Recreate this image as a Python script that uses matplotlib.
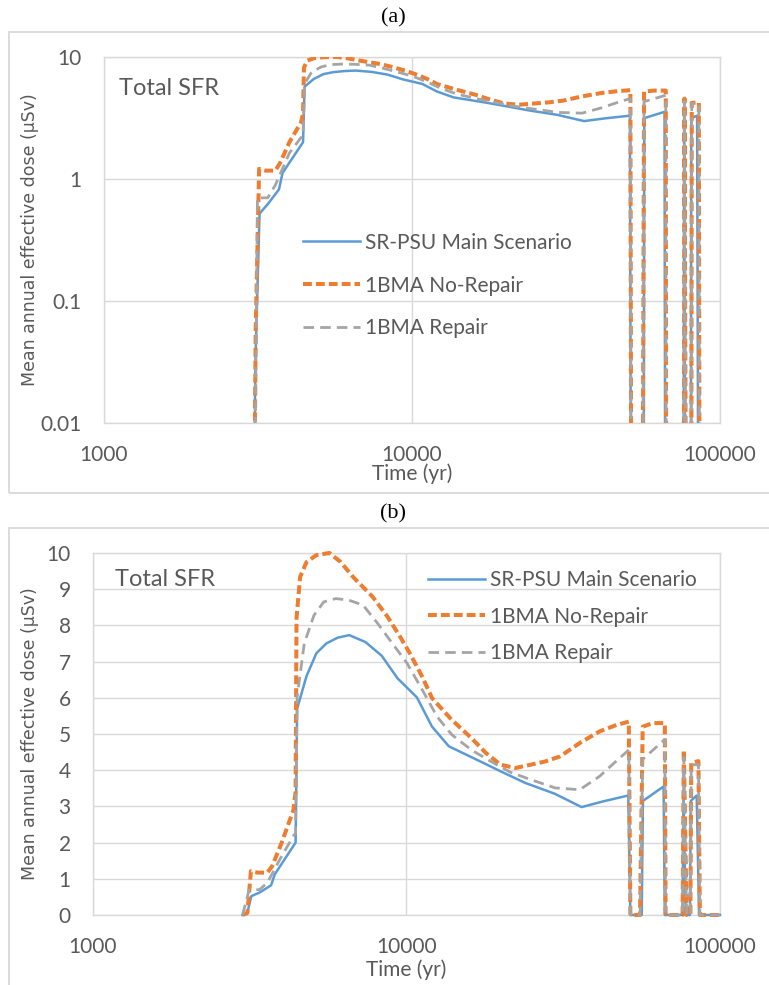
import numpy as np
import matplotlib
matplotlib.use("Agg")
import matplotlib.pyplot as plt
from matplotlib.patches import Rectangle

# Mean annual effective dose, total SFR, three cases
t_main = [3000, 3100, 3200, 3400, 3700, 3800, 4430, 4480, 4800, 5160, 5550,
          6030, 6570, 7400, 8340, 9360, 10800, 12050, 13650, 17600, 19950,
          23900, 29700, 36200, 42500, 51000, 51800, 56300, 56800, 66100, 66700,
          76000, 76500, 77800, 80200, 80700, 84300, 85800, 100000]
dose_main = [0, 0.03, 0.52, 0.62, 0.82, 1.12, 2.0, 5.7, 6.6, 7.23, 7.5,
             7.66, 7.73, 7.54, 7.16, 6.54, 6.01, 5.21, 4.66, 4.2, 3.97,
             3.65, 3.35, 2.98, 3.14, 3.3, 0, 0, 3.15, 3.55, 0,
             0, 3.3, 0, 0, 3.15, 3.3, 0, 0]

t_norep = [3000, 3110, 3190, 3350, 3600, 3730, 4000, 4360, 4430, 4460, 4580,
           4800, 5160, 5680, 6170, 6750, 7800, 8700, 9540, 10250, 11230, 12070,
           13950, 16100, 17950, 19970, 22270, 24860, 27700, 30900, 35700, 41300,
           46800, 51200, 51800, 55600, 56700, 61000, 66700, 67100, 76000, 76700,
           78300, 80500, 81000, 85400, 86300, 100000]
dose_norep = [0, 0.06, 1.21, 1.17, 1.17, 1.35, 2.0, 2.9, 3.4, 8.2, 9.34,
              9.75, 9.94, 10.0, 9.75, 9.34, 8.79, 8.24, 7.69, 7.23, 6.58, 5.99,
              5.39, 4.89, 4.47, 4.15, 4.06, 4.15, 4.24, 4.38, 4.75, 5.07,
              5.25, 5.34, 0, 0, 5.2, 5.3, 5.3, 0, 0, 4.56,
              0, 0, 4.2, 4.25, 0, 0]

t_rep = [3000, 3150, 3400, 3600, 4000, 4360, 4430, 4480, 4720, 5070, 5450,
         5950, 6530, 7270, 8100, 9020, 10050, 11230, 12520, 13950, 16100,
         18600, 21500, 24900, 29800, 35700, 41300, 46000, 51200, 51800, 55600,
         56700, 66700, 67100, 76000, 76700, 78300, 80500, 81000, 85400, 86300,
         100000]
dose_rep = [0, 0.7, 0.7, 0.89, 1.63, 2.18, 2.27, 6.03, 7.5, 8.28, 8.65,
            8.74, 8.7, 8.56, 8.05, 7.5, 6.95, 6.22, 5.48, 4.98, 4.56,
            4.24, 3.94, 3.74, 3.51, 3.46, 3.83, 4.2, 4.56, 0, 0,
            4.3, 4.85, 0, 0, 4.35, 0, 0, 4.15, 4.15, 0,
            0]

labels = ["SR-PSU Main Scenario", "1BMA No-Repair", "1BMA Repair"]

BLUE = "#5B9BD5"
ORANGE = "#ED7D31"
GRAY = "#A5A5A5"
GRID = "#D9D9D9"
TXT = "#595959"
FONT = "Lato"
FS = 15

fig = plt.figure(figsize=(7.69, 9.85), dpi=100)

# panel frames
fig.patches.append(Rectangle((0.0117, 0.4995), 1.0, 0.468, transform=fig.transFigure,
                             fill=False, edgecolor=GRID, lw=1.3))
fig.patches.append(Rectangle((0.0117, -0.02), 1.0, 0.484, transform=fig.transFigure,
                             fill=False, edgecolor=GRID, lw=1.3))
fig.text(0.511, 0.9817, "(a)", ha="center", va="center", fontsize=16,
         family="Liberation Serif", color="black")
fig.text(0.511, 0.478, "(b)", ha="center", va="center", fontsize=16,
         family="Liberation Serif", color="black")

ax_a = fig.add_axes([0.1352, 0.5706, 0.8010, 0.3716])
ax_b = fig.add_axes([0.1209, 0.0711, 0.8153, 0.3675])


def draw_series(ax, log):
    series = [(t_main, dose_main), (t_norep, dose_norep), (t_rep, dose_rep)]
    out = []
    for (t, d), lab in zip(series, labels):
        d = np.asarray(d, dtype=float)
        if log:
            d = np.where(d > 0, d, 1e-6)
        if lab == labels[0]:
            ln, = ax.plot(t, d, color=BLUE, lw=1.8, label=lab, zorder=3,
                          clip_on=log)
        elif lab == labels[1]:
            ln, = ax.plot(t, d, color=ORANGE, lw=2.9, label=lab, zorder=4,
                          dashes=(2.2, 1.0), dash_capstyle="butt", clip_on=log)
        else:
            ln, = ax.plot(t, d, color=GRAY, lw=2.0, label=lab, zorder=5,
                          dashes=(3.8, 2.2), dash_capstyle="butt", clip_on=log)
        out.append(ln)
    return out


def style_axes(ax):
    ax.set_xscale("log")
    ax.set_xlim(1000, 100000)
    ax.set_xticks([1000, 10000, 100000])
    ax.set_xticklabels(["1000", "10000", "100000"])
    ax.minorticks_off()
    ax.grid(True, which="major", color=GRID, lw=1.0, zorder=0)
    ax.set_axisbelow(True)
    for s in ax.spines.values():
        s.set_color(GRID)
        s.set_linewidth(1.0)
    ax.tick_params(length=0, labelsize=FS, labelcolor=TXT, pad=16)
    for lbl in ax.get_xticklabels() + ax.get_yticklabels():
        lbl.set_family(FONT)


def add_legend(ax, handles, anchor, spacing):
    leg = ax.legend(handles=handles, loc="upper left", bbox_to_anchor=anchor,
                    frameon=False, borderpad=0, borderaxespad=0, handlelength=2.75,
                    handletextpad=0.25, labelspacing=spacing,
                    prop={"family": FONT, "size": FS})
    for txt in leg.get_texts():
        txt.set_color(TXT)


# (a) log-log
lines_a = draw_series(ax_a, log=True)
ax_a.set_yscale("log")
ax_a.set_ylim(0.01, 10)
ax_a.set_yticks([0.01, 0.1, 1, 10])
ax_a.set_yticklabels(["0.01", "0.1", "1", "10"])
style_axes(ax_a)
ax_a.set_xlabel("Time (yr)", family=FONT, fontsize=FS, color=TXT, va="center")
ax_a.xaxis.set_label_coords(0.5, -0.139)
ax_a.set_ylabel("Mean annual effective dose (\u00b5Sv)", family="DejaVu Sans",
                fontsize=12.5, color=TXT, va="center")
ax_a.yaxis.set_label_coords(-0.120, 0.5)
ax_a.text(0.0244, 0.915, "Total SFR", transform=ax_a.transAxes, ha="left",
          va="center", family=FONT, fontsize=17, color=TXT)
add_legend(ax_a, lines_a, (0.323, 0.52), 1.1)

# (b) linear dose
lines_b = draw_series(ax_b, log=False)
ax_b.set_ylim(0, 10)
ax_b.set_yticks(range(0, 11))
style_axes(ax_b)
ax_b.set_xlabel("Time (yr)", family=FONT, fontsize=FS, color=TXT, va="center")
ax_b.xaxis.set_label_coords(0.5, -0.151)
ax_b.set_ylabel("Mean annual effective dose (\u00b5Sv)", family="DejaVu Sans",
                fontsize=12.5, color=TXT, va="center")
ax_b.yaxis.set_label_coords(-0.1005, 0.5)
ax_b.text(0.035, 0.928, "Total SFR", transform=ax_b.transAxes, ha="left",
          va="center", family=FONT, fontsize=17, color=TXT)
add_legend(ax_b, lines_b, (0.534, 0.953), 0.8)

fig.savefig("out.png", dpi=100)
